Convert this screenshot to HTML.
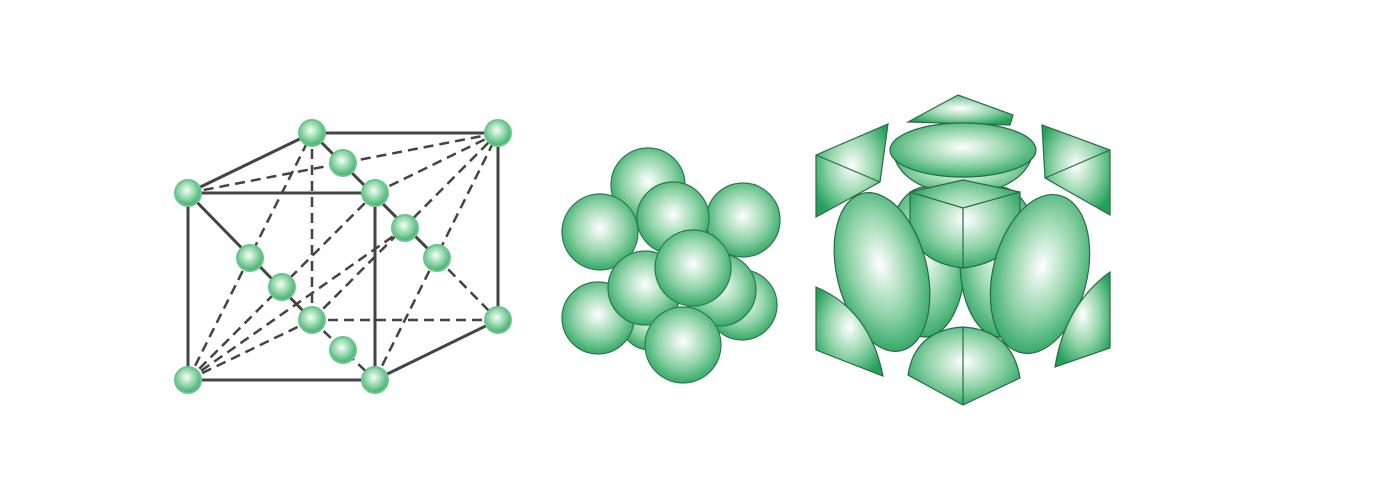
<!DOCTYPE html>
<html><head><meta charset="utf-8"><style>
html,body{margin:0;padding:0;background:#fff;width:1374px;height:504px;overflow:hidden}
</style></head><body>
<svg width="1374" height="504" viewBox="0 0 1374 504" xmlns="http://www.w3.org/2000/svg">
<defs>
<radialGradient id="g" cx="0.5" cy="0.45" r="0.6">
<stop offset="0" stop-color="#ffffff"/><stop offset="0.55" stop-color="#8fd3a8"/><stop offset="1" stop-color="#23a05a"/>
</radialGradient>
<radialGradient id="gs" cx="0.45" cy="0.4" r="0.6">
<stop offset="0" stop-color="#f4fff7"/><stop offset="0.6" stop-color="#86d1a0"/><stop offset="1" stop-color="#3cae6c"/>
</radialGradient>
</defs>

<g stroke="#444" stroke-width="3" fill="none">
<g stroke-dasharray="10,6" stroke-width="2.5">
<line x1="312" y1="133" x2="312" y2="320"/><line x1="312" y1="320" x2="498" y2="320"/><line x1="312" y1="320" x2="188" y2="380"/>
<line x1="188" y1="193" x2="498" y2="133"/>
<line x1="188" y1="380" x2="312" y2="133"/><line x1="188" y1="380" x2="375" y2="193"/>
<line x1="188" y1="380" x2="405" y2="228"/><line x1="312" y1="320" x2="498" y2="133"/>
<line x1="375" y1="380" x2="498" y2="133"/><line x1="437" y1="258" x2="498" y2="320"/>
<line x1="312" y1="320" x2="375" y2="380"/><line x1="375" y1="193" x2="498" y2="133"/>
</g>
<polygon points="188,193 375,193 375,380 188,380"/>
<polyline points="188,193 312,133 498,133 498,320 375,380"/>
<line x1="188" y1="193" x2="312" y2="320"/>
<line x1="312" y1="133" x2="437" y2="258"/>
</g>
<g fill="url(#gs)" stroke="#6cc58e" stroke-width="2">
<circle cx="188" cy="193" r="13"/><circle cx="312" cy="133" r="13"/><circle cx="498" cy="133" r="13"/>
<circle cx="375" cy="193" r="13"/><circle cx="343" cy="163" r="13"/><circle cx="250" cy="258" r="13"/>
<circle cx="282" cy="287" r="13"/><circle cx="312" cy="320" r="13"/><circle cx="405" cy="228" r="13"/>
<circle cx="437" cy="258" r="13"/><circle cx="498" cy="320" r="13"/><circle cx="343" cy="350" r="13"/>
<circle cx="188" cy="380" r="13"/><circle cx="375" cy="380" r="13"/>
</g>

<g fill="url(#g)" stroke="#2a7a4a" stroke-width="1.2">
<circle cx="650" cy="320" r="30"/><circle cx="742" cy="305" r="35"/>
<circle cx="648" cy="185" r="37"/><circle cx="743" cy="220" r="37"/>
<circle cx="600" cy="232" r="38"/><circle cx="673" cy="218" r="36"/>
<circle cx="598" cy="318" r="36"/><circle cx="720" cy="290" r="36"/>
<circle cx="645" cy="288" r="37"/><circle cx="683" cy="345" r="38"/>
<circle cx="693" cy="268" r="38"/>
</g>

<g fill="url(#g)" stroke="#2a6a44" stroke-width="1.2">
<path d="M908,122 L958,95 L1013,115 L1010,125 Z"/>
<path d="M892,150 Q900,190 963,195 Q1026,190 1034,150 Z"/>
<path d="M816,155 L888,124 L880,182 L816,217 Z"/><line x1="816" y1="155" x2="880" y2="182"/>
<path d="M1042,125 L1110,150 L1110,215 L1045,178 Z"/><line x1="1110" y1="150" x2="1045" y2="178"/>
<ellipse cx="925" cy="262" rx="40" ry="75"/>
<ellipse cx="1000" cy="262" rx="40" ry="75"/>
<path d="M910,192 L963,180 L1020,192 L1020,220 Q1015,262 963,268 Q912,262 910,220 Z"/>
<polyline points="910,192 963,208 1020,192" fill="none"/><line x1="963" y1="208" x2="963" y2="268"/>
<ellipse cx="963" cy="150" rx="73" ry="27"/>
<ellipse cx="882" cy="272" rx="45" ry="81" transform="rotate(-14 882 272)"/>
<ellipse cx="1040" cy="274" rx="47" ry="81" transform="rotate(14 1040 274)"/>
<path d="M816,287 Q870,310 883,376 L816,350 Z"/>
<path d="M1110,272 L1110,348 L1055,367 Q1065,305 1110,272 Z"/>
<path d="M908,375 Q915,330 963,327 Q1012,330 1020,378 L963,405 Z"/><line x1="963" y1="327" x2="963" y2="405"/>
</g>
</svg>
</body></html>
